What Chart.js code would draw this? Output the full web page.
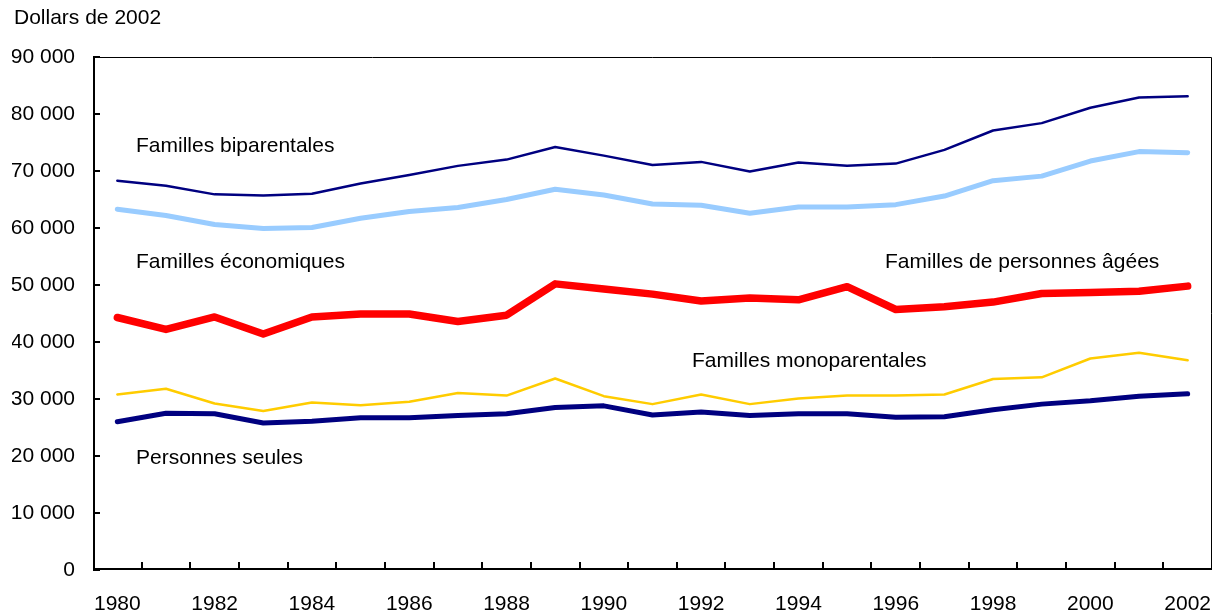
<!DOCTYPE html>
<html><head><meta charset="utf-8">
<script src="https://cdn.jsdelivr.net/npm/chart.js@4/dist/chart.umd.min.js"></script>
<style>html,body{margin:0;padding:0;background:#fff}#wrap{width:1226px;height:615px;position:relative}</style>
</head><body><div id="wrap"><canvas id="c" width="1226" height="615"></canvas></div>
<script>
const years = ['1980','1981','1982','1983','1984','1985','1986','1987','1988','1989','1990','1991','1992','1993','1994','1995','1996','1997','1998','1999','2000','2001','2002'];
const biparentales = [68300,67400,65900,65700,66000,67800,69300,70900,72000,74200,72700,71050,71600,69900,71500,70900,71300,73700,77100,78400,81100,82900,83100];
const economiques = [63300,62200,60600,59900,60100,61700,62900,63600,65000,66800,65800,64200,64000,62600,63700,63700,64100,65600,68300,69100,71750,73400,73200];
const agees = [44300,42200,44400,41400,44400,44900,44900,43600,44700,50200,49300,48400,47200,47700,47400,49700,45700,46200,47000,48500,48700,48900,49800];
const monoparentales = [30800,31800,29200,27900,29400,28900,29500,31050,30600,33600,30500,29100,30800,29100,30100,30600,30600,30800,33500,33800,37100,38100,36800];
const seules = [26000,27500,27400,25800,26100,26700,26700,27100,27400,28500,28800,27200,27700,27100,27400,27400,26800,26900,28100,29100,29700,30500,30900];
const yTicks = [0,10000,20000,30000,40000,50000,60000,70000,80000,90000];
const FONT = 'Liberation Sans, Arial, sans-serif';

const decor = {
  id:'decor',
  afterDraw(chart){
    const {ctx, chartArea:a, scales:{x,y}} = chart;
    ctx.save();
    ctx.strokeStyle='#000';
    ctx.lineWidth=1;
    ctx.beginPath();
    ctx.moveTo(a.left,a.top+0.5); ctx.lineTo(a.right-0.5,a.top+0.5); ctx.lineTo(a.right-0.5,a.bottom);
    ctx.stroke();
    ctx.lineWidth=2;
    ctx.beginPath();
    ctx.moveTo(a.left+1,a.top); ctx.lineTo(a.left+1,a.bottom-1); ctx.lineTo(a.right,a.bottom-1);
    ctx.stroke();
    yTicks.forEach(v=>{const py=Math.round(y.getPixelForValue(v));ctx.beginPath();ctx.moveTo(a.left,py);ctx.lineTo(a.left+7,py);ctx.stroke();});
    const step = x.getPixelForValue(1)-x.getPixelForValue(0);
    for(let i=1;i<years.length;i++){const px=Math.round(x.getPixelForValue(i)-step/2);ctx.beginPath();ctx.moveTo(px,a.bottom);ctx.lineTo(px,a.bottom-8);ctx.stroke();}
    ctx.fillStyle='#000';
    ctx.font='21px '+FONT;
    ctx.textBaseline='middle';
    ctx.textAlign='left';
    ctx.fillText('Dollars de 2002',14,18);
    ctx.fillText('Familles biparentales',136,146);
    ctx.fillText('Familles économiques',136,262);
    ctx.fillText('Familles de personnes âgées',885,262);
    ctx.fillText('Familles monoparentales',692,361);
    ctx.fillText('Personnes seules',136,458);
    ctx.restore();
  }
};

function ds(label,data,color,w){return {label,data,borderColor:color,backgroundColor:color,borderWidth:w,pointRadius:0,tension:0,borderCapStyle:'round',borderJoinStyle:'round',fill:false};}

new Chart(document.getElementById('c'),{
  type:'line',
  data:{labels:years,datasets:[
    ds('Familles biparentales',biparentales,'#000080',2.5),
    ds('Familles économiques',economiques,'#99CCFF',5),
    ds('Familles monoparentales',monoparentales,'#FFCC00',2.5),
    ds('Personnes seules',seules,'#000080',5),
    ds('Familles de personnes âgées',agees,'#FF0000',7.5)
  ]},
  options:{
    responsive:false,animation:false,
    layout:{padding:{left:12,right:14,top:57,bottom:0}},
    plugins:{legend:{display:false},tooltip:{enabled:false}},
    scales:{
      x:{offset:true,grid:{display:false,drawTicks:false},border:{display:false},
         afterFit:(s)=>{s.height=45;s.paddingLeft=0;s.paddingRight=0;},
         ticks:{autoSkip:false,maxRotation:0,padding:22,color:'#000',font:{family:FONT,size:21},
           callback:(v,i)=> (parseInt(years[i])%2===0 ? years[i] : '')}},
      y:{min:0,max:90000,grid:{display:false,drawTicks:false},border:{display:false},
         afterFit:(s)=>{s.width=81;s.paddingTop=0;s.paddingBottom=0;},
         afterBuildTicks:(s)=>{s.ticks=yTicks.map(v=>({value:v}));},
         ticks:{padding:18,color:'#000',font:{family:FONT,size:21},
           callback:(v)=> v===0?'0':(Math.floor(v/1000)+' 000')}}
    }
  },
  plugins:[decor]
});
</script></body></html>
